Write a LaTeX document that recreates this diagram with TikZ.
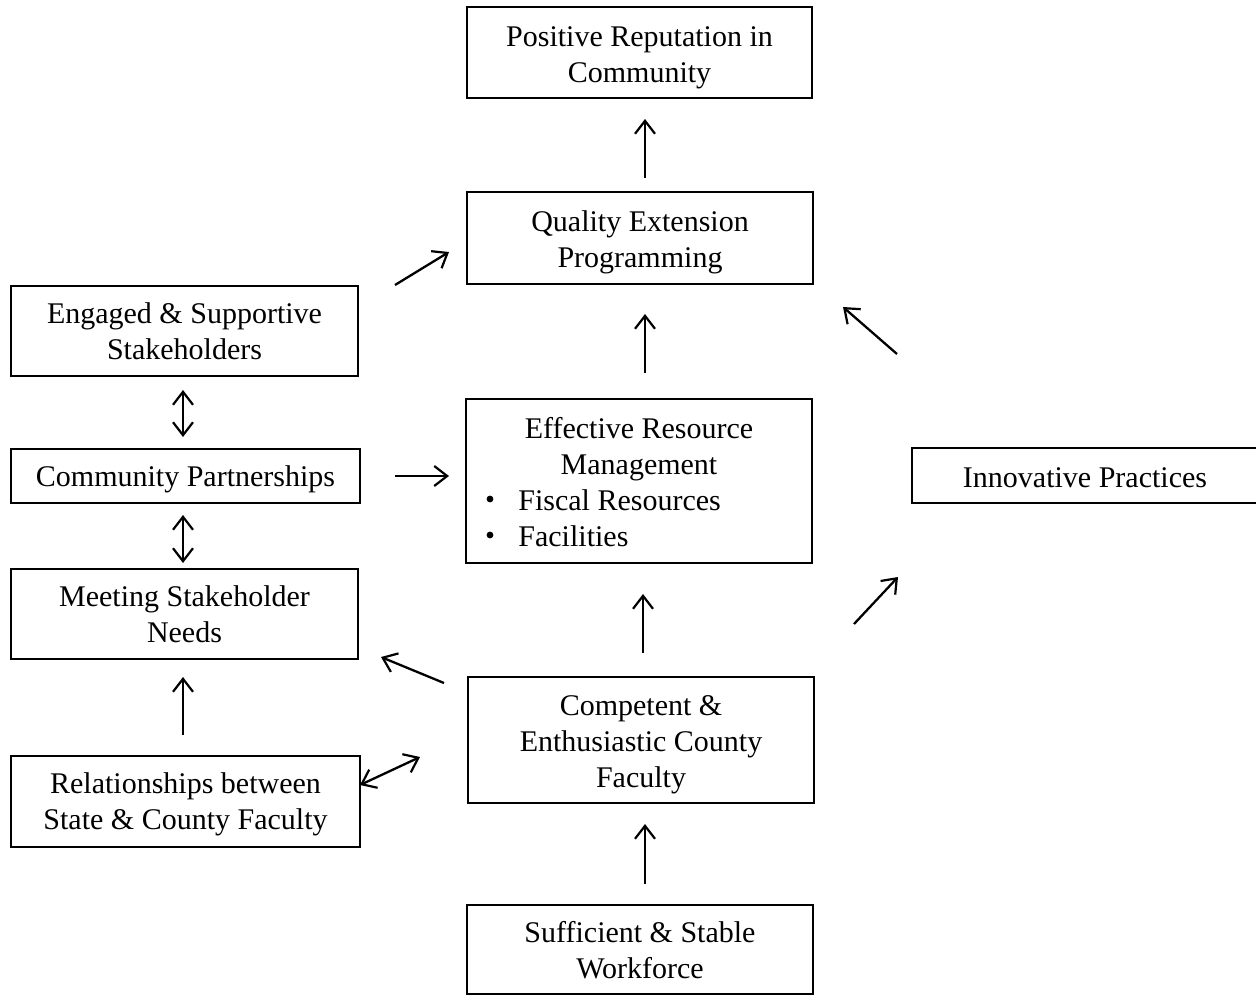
\documentclass[tikz,border=0pt]{standalone}
\usepackage{fontspec}
\setmainfont{Liberation Serif}
\usetikzlibrary{arrows.meta}
\tikzset{
  x=0.5pt, y=-0.5pt,
  box/.style={draw=black, line width=1pt, inner sep=0pt},
  txt/.style={inner sep=0pt, align=center, font=\fontsize{15}{18}\selectfont},
  dot/.style={circle, fill=black, inner sep=0pt, minimum size=3.4pt},
  tip/.style={Straight Barb[length=6.5pt, width=10pt, line width=1.1pt]},
  arr/.style={line width=1.15pt, -{Straight Barb[length=6.5pt, width=10pt, line width=1.1pt]}},
  darr/.style={line width=1.15pt, {Straight Barb[length=6.5pt, width=10pt, line width=1.1pt]}-{Straight Barb[length=6.5pt, width=10pt, line width=1.1pt]}}
}
\begin{document}
\begin{tikzpicture}
\useasboundingbox (0,0) rectangle (1256,996);
\fill[white] (0,0) rectangle (1256,996);
% boxes
\node[box, minimum width=172.5pt, minimum height=45.5pt] (rep) at (639.5,52.5) {};
\node[txt] (rept) at (639.5,57.5) {Positive Reputation in\\Community};
\node[box, minimum width=173pt, minimum height=46pt] (qep) at (640,238) {};
\node[txt] (qept) at (640,242) {Quality Extension\\Programming};
\node[box, minimum width=173pt, minimum height=82pt] (erm) at (639,481) {};
\node[txt] (ermt) at (639,449) {Effective Resource\\Management};
\node[dot] (bul1) at (490,499) {};
\node[txt, anchor=west] (fis) at (518,500) {Fiscal Resources};
\node[dot] (bul2) at (490,535) {};
\node[txt, anchor=west] (fac) at (518,536) {Facilities};
\node[box, minimum width=175pt, minimum height=27.5pt] (inn) at (1087,475.5) {};
\node[txt] (innt) at (1085,478) {Innovative Practices};
\node[box, minimum width=173pt, minimum height=63pt] (cef) at (641,740) {};
\node[txt] (ceft) at (641,745) {Competent \&\\Enthusiastic County\\Faculty};
\node[box, minimum width=173pt, minimum height=44.5pt] (ssw) at (640,949.5) {};
\node[txt] (sswt) at (640,950.5) {Sufficient \& Stable\\Workforce};
\node[box, minimum width=173.5pt, minimum height=45pt] (ess) at (184.5,331) {};
\node[txt] (esst) at (184.5,331) {Engaged \& Supportive\\Stakeholders};
\node[box, minimum width=174.5pt, minimum height=27pt] (cp) at (185.5,476) {};
\node[txt] (cpt) at (185.5,479) {Community Partnerships};
\node[box, minimum width=173.5pt, minimum height=45pt] (msn) at (184.5,614) {};
\node[txt] (msnt) at (184.5,614) {Meeting Stakeholder\\Needs};
\node[box, minimum width=174.5pt, minimum height=45.5pt] (rel) at (185.5,801.5) {};
\node[txt] (relt) at (185.5,804.5) {Relationships between\\State \& County Faculty};
% arrow end points
\coordinate (a1s) at (645,178); \coordinate (a1e) at (645,119);
\coordinate (a2s) at (645,373); \coordinate (a2e) at (645,314);
\coordinate (a3s) at (643,653); \coordinate (a3e) at (643,594);
\coordinate (a4s) at (645,884); \coordinate (a4e) at (645,824);
\coordinate (a5s) at (395,285); \coordinate (a5e) at (449,252);
\coordinate (a6s) at (897,354); \coordinate (a6e) at (843,307);
\coordinate (a7s) at (854,624); \coordinate (a7e) at (898,577);
\coordinate (a8s) at (395,476); \coordinate (a8e) at (449,476);
\coordinate (a9s) at (444,683); \coordinate (a9e) at (381,657);
\coordinate (a10s) at (183,735); \coordinate (a10e) at (183,677);
\coordinate (d1s) at (420,757); \coordinate (d1e) at (360,785);
\coordinate (d2s) at (183,390); \coordinate (d2e) at (183,437);
\coordinate (d3s) at (183,515); \coordinate (d3e) at (183,563);
% arrows
\draw[arr] (a1s) -- (a1e);
\draw[arr] (a2s) -- (a2e);
\draw[arr] (a3s) -- (a3e);
\draw[arr] (a4s) -- (a4e);
\draw[arr] (a5s) -- (a5e);
\draw[arr] (a6s) -- (a6e);
\draw[arr] (a7s) -- (a7e);
\draw[arr] (a8s) -- (a8e);
\draw[arr] (a9s) -- (a9e);
\draw[arr] (a10s) -- (a10e);
\draw[darr] (d1s) -- (d1e);
\draw[darr] (d2s) -- (d2e);
\draw[darr] (d3s) -- (d3e);
\end{tikzpicture}
\end{document}
